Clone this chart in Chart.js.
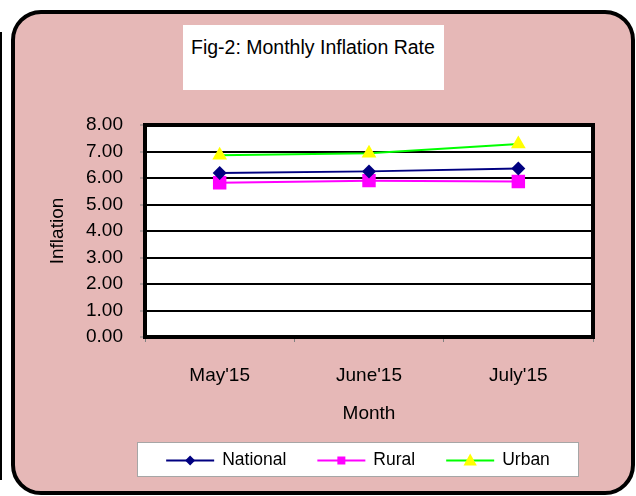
<!DOCTYPE html>
<html>
<head>
<meta charset="utf-8">
<script src="https://cdn.jsdelivr.net/npm/chart.js@4/dist/chart.umd.min.js"></script>
<style>
  body { margin: 0; width: 636px; height: 496px; position: relative; overflow: hidden; background: #fff;
         font-family: "Liberation Sans", Arial, sans-serif; }
  #edge { position: absolute; left: 0; top: 32px; width: 2px; height: 448px; background: #000; }
  #frame { position: absolute; left: 11px; top: 10px; width: 624px; height: 485px; box-sizing: border-box;
           border: 4px solid #000; border-radius: 30px; background: #e6b8b7; }
  #titleBox { position: absolute; left: 183px; top: 25px; width: 261px; height: 65px; box-sizing: border-box;
              background: #fff; padding: 11px 0 0 8px; font-size: 19.5px; line-height: 22px; color: #000; }
  #chart { position: absolute; left: 0; top: 0; }
</style>
</head>
<body>
<div id="edge"></div>
<div id="frame"></div>
<div id="titleBox">Fig-2: Monthly Inflation Rate</div>
<canvas id="chart" width="636" height="496"></canvas>
<script>
// Data
const months = ["May'15", "June'15", "July'15"];
const national = [6.19, 6.25, 6.36];
const rural = [5.82, 5.90, 5.87];
const urban = [6.86, 6.93, 7.28];
const yTicks = [0, 1, 2, 3, 4, 5, 6, 7, 8];

Chart.defaults.font.family = '"Liberation Sans", Arial, sans-serif';
Chart.defaults.color = '#000';

function drawMarker(ctx, style, x, y, r) {
    ctx.beginPath();
    if (style === 'rectRot') {
        ctx.moveTo(x, y - r); ctx.lineTo(x + r, y); ctx.lineTo(x, y + r); ctx.lineTo(x - r, y);
    } else if (style === 'rect') {
        ctx.rect(x - r, y - r, 2 * r, 2 * r);
    } else {
        ctx.moveTo(x, y - r); ctx.lineTo(x + r * 0.95, y + r * 0.7); ctx.lineTo(x - r * 0.95, y + r * 0.7);
    }
    ctx.closePath();
    ctx.fill();
}

// white plot area + thick border
const plotFrame = {
    id: 'plotFrame',
    beforeDraw(chart) {
        const a = chart.chartArea;
        chart.ctx.save();
        chart.ctx.fillStyle = '#fff';
        chart.ctx.fillRect(a.left, a.top, a.right - a.left, a.bottom - a.top);
        chart.ctx.restore();
    },
    beforeDatasetsDraw(chart) {
        const a = chart.chartArea;
        const ctx = chart.ctx;
        ctx.save();
        ctx.strokeStyle = '#000';
        ctx.lineWidth = 4;
        ctx.strokeRect(a.left, a.top, a.right - a.left, a.bottom - a.top);
        ctx.restore();
    }
};

// legend box at the bottom, line + marker like Excel
const legendSizes = [5, 4, 7];
const legendBox = {
    id: 'legendBox',
    afterDraw(chart) {
        const ctx = chart.ctx;
        const x0 = 137, y0 = 442, w = 442, h = 35;
        ctx.save();
        ctx.fillStyle = '#fff';
        ctx.fillRect(x0, y0, w, h);
        ctx.strokeStyle = '#a6a6a6';
        ctx.lineWidth = 1;
        ctx.strokeRect(x0 + 0.5, y0 + 0.5, w - 1, h - 1);
        ctx.font = '17.5px "Liberation Sans", Arial, sans-serif';
        ctx.textBaseline = 'middle';
        const sets = chart.data.datasets;
        const widths = sets.map(d => 48 + 8 + ctx.measureText(d.label).width);
        const total = widths.reduce((s, v) => s + v, 0) + 31 * (sets.length - 1);
        let x = x0 + (w - total) / 2;
        const cy = y0 + h / 2 + 1;
        sets.forEach((d, i) => {
            ctx.strokeStyle = d.borderColor;
            ctx.lineWidth = 2;
            ctx.beginPath(); ctx.moveTo(x, cy); ctx.lineTo(x + 48, cy); ctx.stroke();
            ctx.fillStyle = d.pointBackgroundColor;
            drawMarker(ctx, d.pointStyle, x + 24, cy, legendSizes[i]);
            ctx.fillStyle = '#000';
            ctx.fillText(d.label, x + 56, cy);
            x += widths[i] + 31;
        });
        ctx.restore();
    }
};

new Chart(document.getElementById('chart'), {
    type: 'line',
    data: {
        labels: months,
        datasets: [
            { label: 'National', data: national, borderColor: '#000080', borderWidth: 2,
              pointStyle: 'rectRot', pointRadius: 7, pointBackgroundColor: '#000080', pointBorderColor: '#000080', pointBorderWidth: 0 },
            { label: 'Rural', data: rural, borderColor: '#ff00ff', borderWidth: 2,
              pointStyle: 'rect', pointRadius: 9.5, pointBackgroundColor: '#ff00ff', pointBorderColor: '#ff00ff', pointBorderWidth: 0 },
            { label: 'Urban', data: urban, borderColor: '#00ff00', borderWidth: 2,
              pointStyle: 'triangle', pointRadius: 8.5, pointBackgroundColor: '#ffff00', pointBorderColor: '#ffff00', pointBorderWidth: 0 }
        ]
    },
    options: {
        responsive: false,
        animation: false,
        layout: { padding: { left: 0, top: 125, right: 43, bottom: 0 } },
        plugins: { legend: { display: false }, tooltip: { enabled: false } },
        scales: {
            x: {
                offset: true,
                afterFit: s => { s.height = 159; },
                border: { display: false },
                grid: { offset: true, drawOnChartArea: false, drawTicks: true, tickLength: 5, tickColor: '#808080', tickWidth: 1 },
                ticks: { padding: 22, font: { size: 19 }, color: '#000' },
                title: { display: true, text: 'Month', font: { size: 19 }, color: '#000', padding: { top: 0, bottom: 71 } }
            },
            y: {
                min: 0, max: 8,
                afterFit: s => { s.width = 145; },
                afterBuildTicks: s => { s.ticks = yTicks.map(v => ({ value: v })); },
                border: { display: false },
                grid: { color: '#000', lineWidth: 2, drawTicks: true, tickLength: 5, tickColor: '#808080', tickWidth: 1 },
                ticks: { padding: 17, font: { size: 19 }, color: '#000', callback: v => v.toFixed(2) },
                title: { display: true, text: 'Inflation', font: { size: 19 }, color: '#000', padding: { top: 46.6, bottom: 0 } }
            }
        }
    },
    plugins: [plotFrame, legendBox]
});
</script>
</body>
</html>
